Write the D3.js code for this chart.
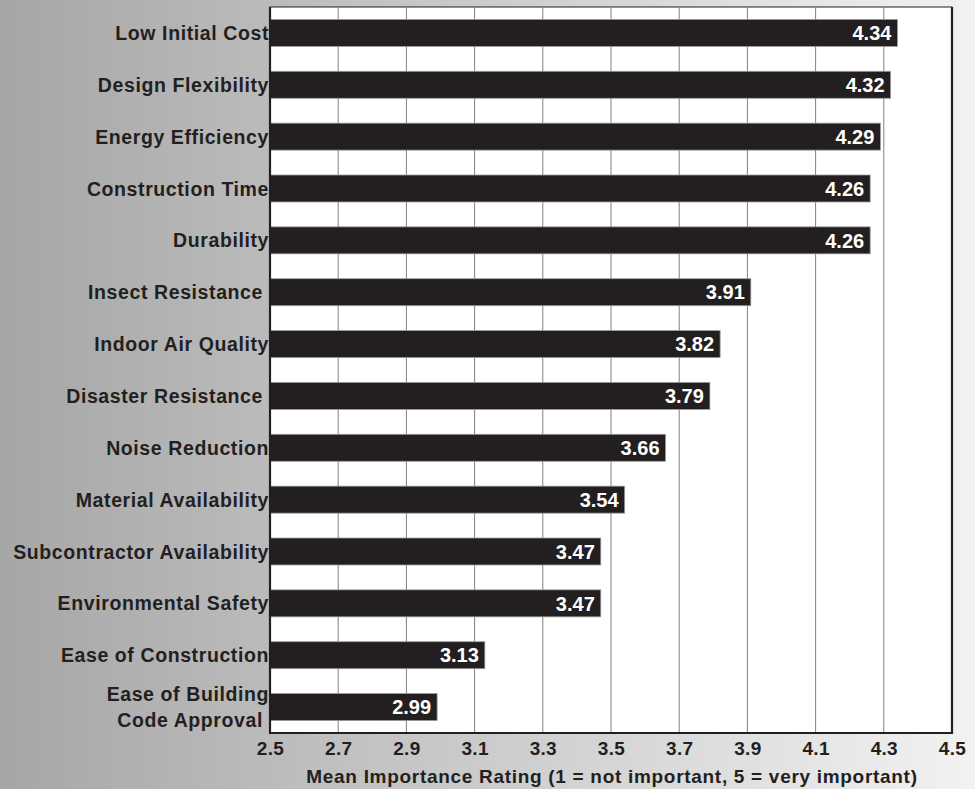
<!DOCTYPE html>
<html>
<head>
<meta charset="utf-8">
<script src="https://cdn.jsdelivr.net/npm/d3@7"></script>
<style>
  body { margin: 0; padding: 0; }
  svg { display: block; font-family: Arial, "Liberation Sans", sans-serif; font-weight: bold; }
</style>
</head>
<body>
<div id="chart"></div>
<script>
var categories = [
  ["Low Initial Cost"],
  ["Design Flexibility"],
  ["Energy Efficiency"],
  ["Construction Time"],
  ["Durability"],
  ["Insect Resistance "],
  ["Indoor Air Quality"],
  ["Disaster Resistance "],
  ["Noise Reduction"],
  ["Material Availability"],
  ["Subcontractor Availability"],
  ["Environmental Safety"],
  ["Ease of Construction"],
  ["Ease of Building", "Code Approval "]
];
var ratings = [4.34, 4.32, 4.29, 4.26, 4.26, 3.91, 3.82, 3.79, 3.66, 3.54, 3.47, 3.47, 3.13, 2.99];
var tickValues = [2.5, 2.7, 2.9, 3.1, 3.3, 3.5, 3.7, 3.9, 4.1, 4.3, 4.5];
var axisTitle = "Mean Importance Rating (1 = not important, 5 = very important)";

var w = 975, h = 789;
var plotLeft = 270, plotRight = 952, plotTop = 7, plotBottom = 733;

var svg = d3.select("#chart").append("svg")
  .attr("width", w)
  .attr("height", h);

// background gradient
var grad = svg.append("defs").append("linearGradient")
  .attr("id", "bg")
  .attr("x1", "0%").attr("x2", "100%").attr("y1", "0%").attr("y2", "0%");
grad.append("stop").attr("offset", "0%").attr("stop-color", "#a6a6a6");
grad.append("stop").attr("offset", "100%").attr("stop-color", "#f2f2f2");

svg.append("rect")
  .attr("width", w).attr("height", h)
  .attr("fill", "url(#bg)");

var x = d3.scaleLinear().domain([2.5, 4.5]).range([plotLeft, plotRight]);
var y = d3.scaleBand().domain(d3.range(categories.length)).range([plotTop, plotBottom])
  .paddingInner(0.48).paddingOuter(0.24);

// plot area
svg.append("rect")
  .attr("x", plotLeft).attr("y", plotTop)
  .attr("width", plotRight - plotLeft).attr("height", plotBottom - plotTop)
  .attr("fill", "#fff")
  .attr("stroke", "#231f20")
  .attr("stroke-width", 1);

// gridlines
svg.selectAll(".grid")
  .data(tickValues.slice(1, -1))
  .enter().append("line")
  .attr("x1", function(d) { return x(d); })
  .attr("x2", function(d) { return x(d); })
  .attr("y1", plotTop).attr("y2", plotBottom)
  .attr("stroke", "#808080")
  .attr("stroke-width", 1);

// bars
svg.selectAll(".bar")
  .data(ratings)
  .enter().append("rect")
  .attr("x", x(2.5))
  .attr("y", function(d, i) { return y(i); })
  .attr("width", function(d) { return x(d) - x(2.5); })
  .attr("height", y.bandwidth())
  .attr("fill", "#231f20")
  .attr("stroke", "#9a9a9a")
  .attr("stroke-width", 0.8);

// value labels
svg.selectAll(".val")
  .data(ratings)
  .enter().append("text")
  .attr("x", function(d) { return x(d) - 6; })
  .attr("y", function(d, i) { return y(i) + y.bandwidth() / 2; })
  .attr("dy", "0.36em")
  .attr("text-anchor", "end")
  .attr("fill", "#fff")
  .style("font-size", "20px")
  .text(function(d) { return d.toFixed(2); });

// thick left, bottom, right border
svg.append("path")
  .attr("d", "M" + plotLeft + "," + plotTop + "V" + plotBottom + "H" + plotRight + "V" + plotTop)
  .attr("fill", "none")
  .attr("stroke", "#231f20")
  .attr("stroke-width", 2.2);

// category labels
var cat = svg.selectAll(".cat")
  .data(categories)
  .enter().append("text")
  .attr("text-anchor", "end")
  .attr("fill", "#231f20")
  .style("font-size", "19.5px")
  .style("letter-spacing", "0.6px")
  .style("white-space", "pre")
  .attr("transform", function(d, i) {
    return "translate(" + (plotLeft - 1) + "," + (y(i) + y.bandwidth() / 2) + ")";
  });
cat.each(function(d) {
  var t = d3.select(this);
  var n = d.length;
  d.forEach(function(line, k) {
    t.append("tspan")
      .attr("x", 0)
      .attr("y", (k - (n - 1) / 2) * 26)
      .attr("dy", "0.36em")
      .text(line);
  });
});

// x axis
var axis = svg.append("g")
  .attr("transform", "translate(0," + plotBottom + ")")
  .call(d3.axisBottom(x).tickValues(tickValues).tickSize(0).tickPadding(8).tickFormat(d3.format(".1f")));
axis.select(".domain").remove();
axis.selectAll("text")
  .attr("y", 22)
  .attr("dy", 0)
  .attr("fill", "#231f20")
  .style("font-size", "19px")
  .style("letter-spacing", "0.3px")
  .style("font-family", "Arial, 'Liberation Sans', sans-serif")
  .style("font-weight", "bold");

svg.append("text")
  .attr("x", 612)
  .attr("y", 783)
  .attr("text-anchor", "middle")
  .attr("fill", "#231f20")
  .style("font-size", "19px")
  .style("letter-spacing", "0.7px")
  .text(axisTitle);
</script>
</body>
</html>
